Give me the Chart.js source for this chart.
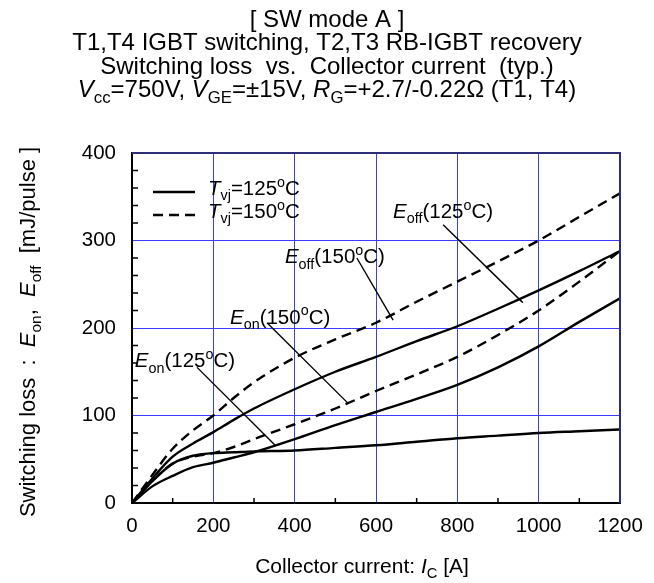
<!DOCTYPE html>
<html>
<head>
<meta charset="utf-8">
<script src="https://cdn.jsdelivr.net/npm/chart.js@4.4.1/dist/chart.umd.min.js"></script>
<style>
  html, body { margin: 0; padding: 0; background: #fff; }
  canvas { display: block; }
</style>
</head>
<body>
<canvas id="c" width="654" height="583"></canvas>
<script>
// Collector current [A] and switching loss [mJ/pulse]
const currents = [0, 50, 100, 150, 200, 250, 300, 400, 500, 600, 700, 800, 900, 1000, 1100, 1200];
const eoff150 = [0, 32, 62, 83, 100, 120, 138, 166, 187, 206, 230, 253, 276, 300, 327, 354];
const eoff125 = [0, 28, 53, 68, 81, 95, 108, 130, 150, 167, 185, 202, 222, 243, 265, 288];
const eon150 = [0, 25, 45, 53, 57, 64, 73, 90, 108, 128, 147, 167, 192, 220, 253, 288];
const eon125 = [0, 19, 31, 41, 46, 52, 58, 73, 89, 104, 119, 135, 155, 179, 207, 234];
const eflat125 = [0, 25, 45, 54, 57, 58, 59, 60, 63, 66, 70, 74, 77, 80, 82, 84];
const xTicks = [0, 200, 400, 600, 800, 1000, 1200];
const yTicks = [0, 100, 200, 300, 400];

const FONT = '"Liberation Sans", Arial, Helvetica, sans-serif';

function pts(ys) {
  return currents.map((x, i) => ({ x: x, y: ys[i] }));
}

function curve(ys, dashed) {
  return {
    data: pts(ys),
    showLine: true,
    pointRadius: 0,
    borderColor: "#000",
    borderWidth: 2.4,
    borderDash: dashed ? [10, 6] : [],
    cubicInterpolationMode: "monotone",
    fill: false,
  };
}

// segments: [text, style] with style "" normal, "i" italic, "b" subscript, "p" superscript
function segFont(style, size) {
  const s = style === "b" || style === "p" ? size * 0.7 : size;
  return (style === "i" ? "italic " : "") + s + "px " + FONT;
}
function richWidth(ctx, segs, size) {
  let w = 0;
  segs.forEach(([t, st]) => {
    ctx.font = segFont(st, size);
    w += ctx.measureText(t).width;
  });
  return w;
}
function drawRich(ctx, segs, x, y, size, align) {
  const w = richWidth(ctx, segs, size);
  let cx = align === "center" ? x - w / 2 : x;
  ctx.textBaseline = "alphabetic";
  ctx.textAlign = "left";
  ctx.fillStyle = "#000";
  segs.forEach(([t, st]) => {
    ctx.font = segFont(st, size);
    let dy = 0;
    if (st === "b") dy = size * 0.26;
    if (st === "p") dy = -size * 0.4;
    ctx.fillText(t, cx, y + dy);
    cx += ctx.measureText(t).width;
  });
}

const titleLines = [
  [["[ SW mode A ]", ""]],
  [["T1,T4 IGBT switching, T2,T3 RB-IGBT recovery", ""]],
  [["Switching loss  vs.  Collector current  (typ.)", ""]],
  [["V", "i"], ["cc", "b"], ["=750V, ", ""], ["V", "i"], ["GE", "b"], ["=\u00b115V, ", ""],
   ["R", "i"], ["G", "b"], ["=+2.7/-0.22\u03a9 (T1, T4)", ""]],
];

// label text anchor and leader line, in data units
const notes = [
  { text: [["E", "i"], ["off", "b"], ["(125", ""], ["o", "p"], ["C)", ""]], at: [642, 326], from: [765, 318], to: [961, 229] },
  { text: [["E", "i"], ["off", "b"], ["(150", ""], ["o", "p"], ["C)", ""]], at: [376, 274], from: [553, 280], to: [642, 209] },
  { text: [["E", "i"], ["on", "b"], ["(150", ""], ["o", "p"], ["C)", ""]], at: [241, 205], from: [332, 206], to: [529, 115] },
  { text: [["E", "i"], ["on", "b"], ["(125", ""], ["o", "p"], ["C)", ""]], at: [7, 155], from: [160, 155], to: [352, 66] },
];

const decor = {
  id: "decor",
  afterDraw(chart) {
    const ctx = chart.ctx;
    const a = chart.chartArea;
    const xs = chart.scales.x, ys = chart.scales.y;
    ctx.save();

    // inward minor ticks
    ctx.strokeStyle = "#000";
    ctx.lineWidth = 1.5;
    ctx.beginPath();
    for (let v = 100; v < 1200; v += 200) {
      const px = xs.getPixelForValue(v);
      ctx.moveTo(px, a.bottom);
      ctx.lineTo(px, a.bottom - 5);
    }
    for (let v = 20; v < 400; v += 20) {
      if (v % 100 === 0) continue;
      const py = ys.getPixelForValue(v);
      ctx.moveTo(a.left, py);
      ctx.lineTo(a.left + 6, py);
    }
    ctx.stroke();

    // top and right frame
    ctx.strokeStyle = "#2e2e78";
    ctx.lineWidth = 2;
    ctx.beginPath();
    ctx.moveTo(a.left, a.top);
    ctx.lineTo(a.right, a.top);
    ctx.lineTo(a.right, a.bottom);
    ctx.stroke();

    // title
    titleLines.forEach((segs, i) => drawRich(ctx, segs, 327, 27 + i * 23.3, 24, "center"));

    // axis titles
    drawRich(ctx, [["Collector current: ", ""], ["I", "i"], ["C", "b"], [" [A]", ""]],
      362, 573, 21, "center");
    ctx.save();
    ctx.translate(35, 332);
    ctx.rotate(-Math.PI / 2);
    drawRich(ctx, [["Switching loss  :  ", ""], ["E", "i"], ["on", "b"], [",  ", ""],
      ["E", "i"], ["off", "b"], ["  [mJ/pulse ]", ""]], 0, 0, 22, "center");
    ctx.restore();

    // legend
    ctx.strokeStyle = "#000";
    ctx.lineWidth = 2.4;
    ctx.beginPath();
    ctx.moveTo(153, 192); ctx.lineTo(195, 192);
    ctx.stroke();
    ctx.setLineDash([10, 6]);
    ctx.beginPath();
    ctx.moveTo(153, 215); ctx.lineTo(197, 215);
    ctx.stroke();
    ctx.setLineDash([]);
    drawRich(ctx, [["T", "i"], ["vj", "b"], ["=125", ""], ["o", "p"], ["C", ""]], 208, 195, 20.5, "left");
    drawRich(ctx, [["T", "i"], ["vj", "b"], ["=150", ""], ["o", "p"], ["C", ""]], 208, 218, 20.5, "left");

    // curve labels with leader lines
    ctx.lineWidth = 1.4;
    notes.forEach(n => {
      drawRich(ctx, n.text, xs.getPixelForValue(n.at[0]), ys.getPixelForValue(n.at[1]), 20.5, "left");
      ctx.beginPath();
      ctx.moveTo(xs.getPixelForValue(n.from[0]), ys.getPixelForValue(n.from[1]));
      ctx.lineTo(xs.getPixelForValue(n.to[0]), ys.getPixelForValue(n.to[1]));
      ctx.stroke();
    });

    ctx.restore();
  },
};

new Chart(document.getElementById("c"), {
  type: "scatter",
  data: {
    datasets: [
      curve(eflat125, false),
      curve(eon125, false),
      curve(eon150, true),
      curve(eoff125, false),
      curve(eoff150, true),
    ],
  },
  options: {
    responsive: false,
    animation: false,
    layout: { padding: { top: 153, right: 34, left: 0, bottom: 0 } },
    plugins: { legend: { display: false }, tooltip: { enabled: false } },
    scales: {
      x: {
        type: "linear",
        min: 0,
        max: 1200,
        afterBuildTicks: s => { s.ticks = xTicks.map(v => ({ value: v })); },
        afterFit: s => { s.height = 80; },
        ticks: { color: "#000", font: { family: FONT, size: 20.5 }, padding: 11, callback: v => String(v) },
        grid: { color: "#3c3cff", lineWidth: 1, drawTicks: false },
        border: { color: "#000", width: 2 },
      },
      y: {
        type: "linear",
        min: 0,
        max: 400,
        afterBuildTicks: s => { s.ticks = yTicks.map(v => ({ value: v })); },
        afterFit: s => { s.width = 132; },
        ticks: { color: "#000", font: { family: FONT, size: 20.5 }, padding: 16, callback: v => String(v) },
        grid: { color: "#3c3cff", lineWidth: 1, drawTicks: false },
        border: { color: "#000", width: 2 },
      },
    },
  },
  plugins: [decor],
});
</script>
</body>
</html>
